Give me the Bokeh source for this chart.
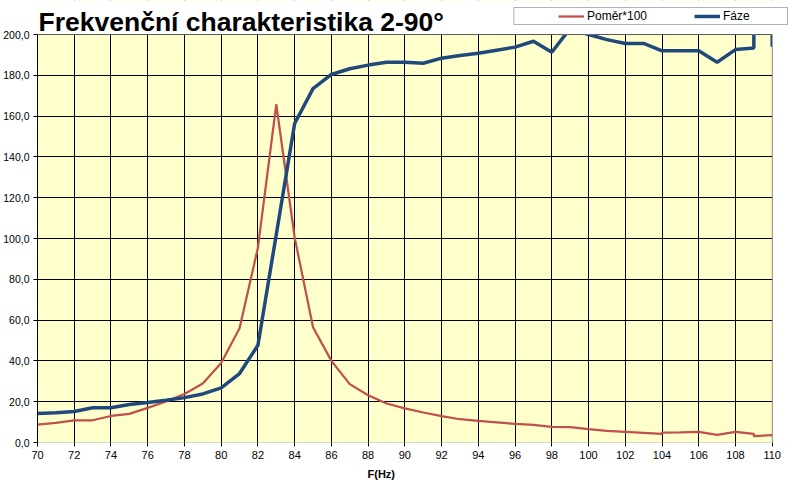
from bokeh.plotting import figure
from bokeh.models import (Range1d, FixedTicker, Label, Legend, LegendItem,
                          BoxAnnotation, Title)
from bokeh.embed import file_html
from bokeh.resources import INLINE

# ---- data ----
POMER_F = [70, 71, 72, 73, 74, 75, 76, 77, 78, 79, 80, 81, 82, 83, 84, 85, 86, 87,
           88, 89, 90, 91, 92, 93, 94, 95, 96, 97, 98, 99, 100, 101, 102, 103, 104,
           104, 105, 106, 107, 108, 109, 109, 110]
POMER = [8.8, 9.6, 10.9, 10.9, 13.0, 14.0, 17.0, 20.1, 23.8, 28.9, 39.0, 56.0, 95.5,
         165.8, 100.5, 56.5, 40.0, 28.6, 23.2, 19.1, 16.7, 14.7, 12.9, 11.4, 10.6,
         9.9, 9.1, 8.6, 7.7, 7.5, 6.5, 5.7, 5.2, 4.7, 4.2, 4.9, 5.0, 5.2, 3.7, 5.2,
         4.2, 3.1, 3.6]

FAZE_F = [70, 71, 72, 73, 74, 75, 76, 77, 78, 79, 80, 81, 82, 83, 84, 85, 86, 87,
          88, 89, 90, 91, 92, 93, 94, 95, 96, 97, 98, 99, 100, 101, 102, 103, 104,
          105, 106, 107, 108, 109, 109, 110, 110]
FAZE = [14.2, 14.6, 15.2, 17.0, 17.0, 18.6, 19.6, 20.7, 22.0, 23.8, 26.8, 33.8, 47.7,
        102.0, 156.4, 173.5, 180.4, 183.2, 185.0, 186.4, 186.4, 185.9, 188.4, 189.7,
        190.8, 192.3, 193.8, 196.7, 191.3, 203.0, 200.0, 197.5, 195.6, 195.6, 192.0,
        192.0, 192.0, 186.4, 192.6, 193.4, 215.0, 215.0, 194.0]

X_MIN, X_MAX = 70, 110
Y_MIN, Y_MAX = 0, 200
X_TICKS = list(range(70, 111, 2))
Y_TICKS = [0, 20, 40, 60, 80, 100, 120, 140, 160, 180, 200]
Y_TICK_LABELS = ["0,0", "20,0", "40,0", "60,0", "80,0", "100,0", "120,0",
                 "140,0", "160,0", "180,0", "200,0"]

TITLE = "Frekvenční charakteristika 2-90°"
X_LABEL = "F(Hz)"
NAME_POMER = "Poměr*100"
NAME_FAZE = "Fáze"

FONT = "Liberation Sans"
RED = "#C0504D"
BLUE = "#1F497D"
PLOT_BG = "#FFFFCC"

# ---- layout (canvas pixels) ----
W, H = 793, 486
PA_LEFT, PA_RIGHT, PA_TOP, PA_BOTTOM = 36, 771.7, 34, 442   # plot area in the reference
BORDER_BOTTOM = H - PA_BOTTOM
PX_PER_X = (PA_RIGHT - PA_LEFT) / (X_MAX - X_MIN)
PX_PER_Y = (PA_BOTTOM - PA_TOP) / (Y_MAX - Y_MIN)


def dx(px):  # canvas x pixel -> data x
    return X_MIN + (px - PA_LEFT) / PX_PER_X


def dy(py):  # canvas y pixel -> data y
    return Y_MIN + (PA_BOTTOM - py) / PX_PER_Y


p = figure(width=W, height=H, output_backend="svg", toolbar_location=None,
           x_range=Range1d(X_MIN, dx(W)), y_range=Range1d(Y_MIN, dy(0)),
           min_border_left=PA_LEFT, min_border_right=0,
           min_border_top=0, min_border_bottom=BORDER_BOTTOM)
p.background_fill_color = PLOT_BG
p.border_fill_color = "white"
p.outline_line_color = None

for ax in (p.xaxis[0], p.yaxis[0]):
    ax.major_tick_line_color = "black"
    ax.major_tick_out = 4
    ax.major_tick_in = 0
    ax.minor_tick_line_color = None
    ax.major_label_text_font = FONT
    ax.major_label_text_color = "black"
    ax.major_label_standoff = 4

p.yaxis.major_label_text_font_size = "10.5px"
p.xaxis.major_label_text_font_size = "11px"
p.yaxis.axis_line_color = "black"
p.yaxis.bounds = (Y_MIN, Y_MAX)
p.xaxis.axis_line_color = None
p.xaxis.bounds = (X_MIN, X_MAX)

p.xaxis.ticker = FixedTicker(ticks=X_TICKS)
p.yaxis.ticker = FixedTicker(ticks=Y_TICKS)
p.yaxis.major_label_overrides = {t: s for t, s in zip(Y_TICKS, Y_TICK_LABELS)}

p.xgrid.ticker = FixedTicker(ticks=X_TICKS)
p.ygrid.ticker = FixedTicker(ticks=Y_TICKS)
for g in (p.xgrid[0], p.ygrid[0]):
    g.grid_line_color = "black"
    g.grid_line_width = 1
    g.grid_line_alpha = 1

# x-axis title, below the tick labels, placed like the reference (left edge x~366)
p.add_layout(Title(text=X_LABEL, align="left", offset=366 - PA_LEFT,
                   text_font=FONT, text_font_size="11px", text_font_style="bold",
                   text_color="black", standoff=8), "below")

r_red = p.line(POMER_F, POMER, line_color=RED, line_width=2.25)
r_blue = p.line(FAZE_F, FAZE, line_color=BLUE, line_width=3.5)

# white page outside the plot area (hides grid/lines beyond 200 and 110)
p.add_layout(BoxAnnotation(bottom=Y_MAX, fill_color="white", fill_alpha=1,
                           line_color=None))
p.add_layout(BoxAnnotation(left=X_MAX, fill_color="white", fill_alpha=1,
                           line_color=None))
# plot-area border
p.add_layout(BoxAnnotation(left=X_MIN, right=X_MAX, bottom=Y_MIN, top=Y_MAX,
                           fill_alpha=0, line_color="black", line_width=1))

# title
p.add_layout(Label(x=dx(37), y=dy(21), text=TITLE,
                   text_font=FONT, text_font_size="26.5px", text_font_style="bold",
                   text_color="black", text_baseline="alphabetic"))

# legend box
p.add_layout(BoxAnnotation(left=dx(513), right=dx(787), bottom=dy(24), top=dy(7),
                           fill_color="white", fill_alpha=1,
                           line_color="black", line_width=1))

legend = Legend(items=[LegendItem(label=NAME_POMER, renderers=[r_red]),
                       LegendItem(label=NAME_FAZE, renderers=[r_blue])],
                orientation="horizontal",
                location=(557 - PA_LEFT, PA_BOTTOM - 22.5),
                border_line_color=None, background_fill_alpha=0,
                padding=0, margin=0, spacing=42, label_standoff=3,
                glyph_width=26, glyph_height=14, label_height=14, label_width=65,
                label_text_font=FONT, label_text_font_size="12px",
                label_text_color="black")
p.add_layout(legend)

open("out.html", "w").write(file_html(p, INLINE))
